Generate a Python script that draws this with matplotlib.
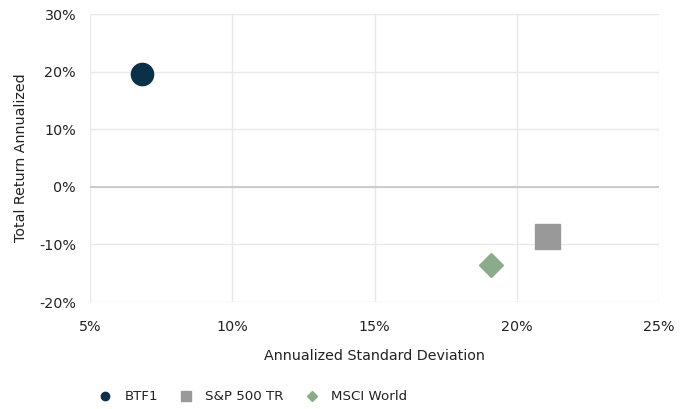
import matplotlib
matplotlib.use("Agg")
import matplotlib.pyplot as plt
from matplotlib.lines import Line2D
from matplotlib.ticker import FuncFormatter

names = ["BTF1", "S&P 500 TR", "MSCI World"]
std_dev = [6.83, 21.05, 19.1]
returns = [19.6, -8.5, -13.5]
colors = ["#0b3049", "#999999", "#88ad88"]
markers = ["o", "s", "D"]
msizes = [16, 18, 12.5]
leg_sizes = [6, 6.5, 5]

x_ticks = [5, 10, 15, 20, 25]
y_ticks = [-20, -10, 0, 10, 20, 30]

plt.rcParams['font.family'] = ['DejaVu Sans']
fig = plt.figure(figsize=(6.93, 4.09), dpi=100)
ax = fig.add_axes([90/693, 1-302/409, (659-90)/693, (302-14)/409])

for n, x, y, c, m, s in zip(names, std_dev, returns, colors, markers, msizes):
    ax.plot([x], [y], marker=m, color=c, markersize=s, linestyle='none', zorder=3)

ax.set_xlim(5, 25)
ax.set_ylim(-20, 30)
ax.set_xticks(x_ticks)
ax.set_yticks(y_ticks)
fmt = FuncFormatter(lambda v, p: f"{int(v)}%")
ax.xaxis.set_major_formatter(fmt)
ax.yaxis.set_major_formatter(fmt)
ax.grid(True, color="#e8e8e8", linewidth=1)
ax.axhline(0, color="#c4c4c4", linewidth=1.2, zorder=2)
ax.set_axisbelow(True)
for sp in ax.spines.values():
    sp.set_visible(False)
ax.tick_params(length=0, labelsize=10.3, colors="#222222")
ax.tick_params(axis='x', pad=13)
ax.tick_params(axis='y', pad=10)
ax.set_xlabel("Annualized Standard Deviation", fontsize=10.3, color="#222222", labelpad=11)
ax.set_ylabel("Total Return Annualized", fontsize=10.3, color="#222222", labelpad=8)

handles = [Line2D([], [], marker=m, color=c, markersize=s, linestyle='none', label=n)
           for n, c, m, s in zip(names, colors, markers, leg_sizes)]
fig.legend(handles=handles, loc="center left", bbox_to_anchor=(85/693, 1-397/409),
           ncol=3, frameon=False, fontsize=9.6, handletextpad=0.85, columnspacing=1.5,
           handlelength=1.2, labelcolor="#222222")

fig.savefig("out.png", dpi=100)
